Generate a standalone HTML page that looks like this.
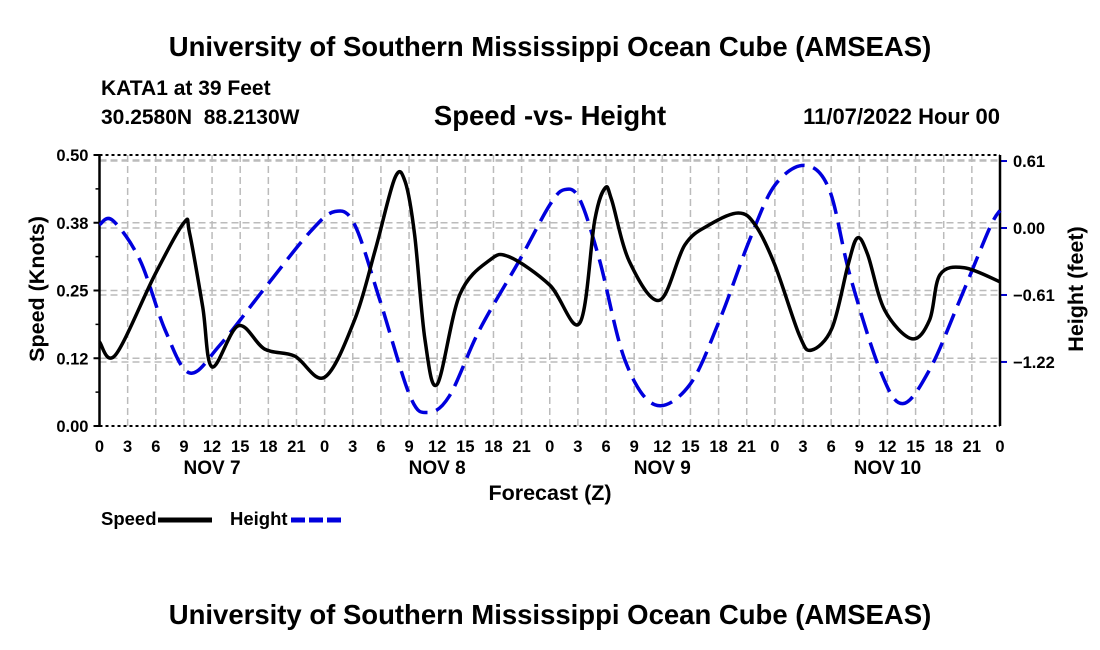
<!DOCTYPE html>
<html><head><meta charset="utf-8"><style>
body{margin:0;background:#fff;}
svg{display:block;font-family:"Liberation Sans",sans-serif;font-weight:bold;}
</style></head><body>
<svg id="c" width="1100" height="650" viewBox="0 0 1100 650">
<text x="550" y="56" text-anchor="middle" font-size="27.5">University of Southern Mississippi Ocean Cube (AMSEAS)</text>
<text x="101" y="95" font-size="21">KATA1 at 39 Feet</text>
<text x="101" y="124" font-size="21" xml:space="preserve">30.2580N  88.2130W</text>
<text x="550" y="125" text-anchor="middle" font-size="27.5">Speed -vs- Height</text>
<text x="1000" y="124" text-anchor="end" font-size="22">11/07/2022 Hour 00</text>
<g id="grid"></g><g id="axes"></g><g id="series"></g>
<text x="550" y="500" text-anchor="middle" font-size="21.5">Forecast (Z)</text>
<text transform="translate(44,289) rotate(-90)" text-anchor="middle" font-size="21.5">Speed (Knots)</text>
<text transform="translate(1083,289) rotate(-90)" text-anchor="middle" font-size="21.5">Height (feet)</text>
<g>
<text x="101" y="525" font-size="18.5">Speed</text>
<line x1="158" y1="520" x2="212" y2="520" stroke="#000" stroke-width="5"/>
<text x="230" y="525" font-size="18.5">Height</text>
<line x1="291" y1="520" x2="343" y2="520" stroke="#0000dd" stroke-width="5" stroke-dasharray="14,4"/>
</g>
<text x="550" y="624" text-anchor="middle" font-size="27.5">University of Southern Mississippi Ocean Cube (AMSEAS)</text>
</svg>
<script>
const speedHours=[0,1.7,5.9,9.0,9.6,11.0,12.0,14.8,17.6,20.8,24.0,27.2,29.4,31.5,32.6,33.6,34.7,36.0,38.4,41.6,43.7,48.0,51.2,52.8,53.9,54.6,56.5,59.7,62.4,65.0,68.1,69.9,72.0,74.6,75.9,78.1,79.8,80.8,81.9,83.7,86.6,88.5,89.6,92.2,96];
const speedValues=[0.155,0.131,0.279,0.375,0.356,0.22,0.109,0.185,0.142,0.129,0.090,0.196,0.325,0.458,0.450,0.352,0.159,0.077,0.242,0.306,0.312,0.260,0.190,0.380,0.439,0.417,0.303,0.232,0.334,0.371,0.393,0.371,0.297,0.168,0.140,0.181,0.297,0.347,0.316,0.214,0.161,0.196,0.279,0.292,0.266];
const heightHours=[0,1.4,4.3,7.0,9.6,12.8,17.6,22.4,25.1,27.2,29.9,33.1,35.0,37.3,40.5,44.8,48.0,49.6,51.2,53.3,56.0,59.2,62.9,66.1,69.3,72.0,75.2,77.8,80.0,83.2,85.6,88.5,91.7,94.9,96];
const heightValues=[0.03,0.07,-0.29,-0.93,-1.32,-1.07,-0.55,-0.04,0.15,0.03,-0.66,-1.53,-1.68,-1.53,-0.93,-0.29,0.21,0.35,0.26,-0.29,-1.2,-1.61,-1.43,-0.84,-0.11,0.39,0.57,0.35,-0.43,-1.29,-1.6,-1.29,-0.66,0,0.16];
const hourTicks=[0,3,6,9,12,15,18,21,0,3,6,9,12,15,18,21,0,3,6,9,12,15,18,21,0,3,6,9,12,15,18,21,0];
const dayLabels=["NOV 7","NOV 8","NOV 9","NOV 10"];
const speedTicks=[0,0.125,0.25,0.375,0.5];
const speedTickLabels=["0.00","0.12","0.25","0.38","0.50"];
const heightTicks=[0.61,0,-0.61,-1.22];
const heightTickLabels=["0.61","0.00","\u22120.61","\u22121.22"];

const L=99.5,R=1000,T=155,B=426;
const xS=h=>L+h*(R-L)/96;
const yS=v=>B-v*(B-T)/0.5;
const yH=v=>228-v*109.8;
const NS="http://www.w3.org/2000/svg";
function mk(tag,attrs,parent){const e=document.createElementNS(NS,tag);for(const k in attrs)e.setAttribute(k,attrs[k]);parent.appendChild(e);return e;}
const grid=document.getElementById('grid'),axes=document.getElementById('axes'),series=document.getElementById('series');
hourTicks.forEach((t,i)=>{
  const x=xS(i*3);
  if(i>0&&i<hourTicks.length-1){const g=mk('line',{x1:x,y1:T,x2:x,y2:B,stroke:'#bbb','stroke-width':1.5,'stroke-dasharray':'7,4'},grid);
  
  }
  const tk=mk('text',{x:x,y:452,'text-anchor':'middle','font-size':16.5},axes);tk.textContent=t;
  
  
});
dayLabels.forEach((d,i)=>{const t=mk('text',{x:xS(12+24*i),y:474,'text-anchor':'middle','font-size':19},axes);t.textContent=d;
  
  });
speedTicks.forEach((v,i)=>{const y=yS(v);
  if(i>0){const g=mk('line',{x1:L,y1:y+(i==4?5:0),x2:R,y2:y+(i==4?5:0),stroke:'#bbb','stroke-width':1.5,'stroke-dasharray':'7,4'},grid);
  
  }
  mk('line',{x1:L-6,y1:y,x2:L,y2:y,stroke:'#000','stroke-width':2},axes);
  const t=mk('text',{x:L-11,y:y+6,'text-anchor':'end','font-size':16.5},axes);t.textContent=speedTickLabels[i];
  
  });
for(let v=0.0625;v<0.5;v+=0.125){mk('line',{x1:L-4,y1:yS(v),x2:L,y2:yS(v),stroke:'#000','stroke-width':1.5},axes);}
heightTicks.forEach((v,i)=>{const y=yH(v);
  const g=mk('line',{x1:L,y1:y,x2:R,y2:y,stroke:'#bbb','stroke-width':1.5,'stroke-dasharray':'7,4'},grid);
  
  
  mk('line',{x1:R,y1:y,x2:R+7,y2:y,stroke:'#0000cc','stroke-width':2},axes);
  const t=mk('text',{x:1013,y:y+6,'font-size':16.5},axes);t.textContent=heightTickLabels[i];
  
  });
mk('line',{x1:L,y1:T,x2:L,y2:B,stroke:'#000','stroke-width':2.5},axes);
mk('line',{x1:R,y1:T,x2:R,y2:B,stroke:'#000','stroke-width':2.5},axes);
mk('line',{x1:L,y1:T,x2:R,y2:T,stroke:'#000','stroke-width':2,'stroke-dasharray':'3,3'},axes);
mk('line',{x1:L,y1:B,x2:R,y2:B,stroke:'#000','stroke-width':2,'stroke-dasharray':'3,3'},axes);
function smooth(pts){let d=`M${pts[0][0]},${pts[0][1]}`;
  for(let i=0;i<pts.length-1;i++){const p0=pts[Math.max(0,i-1)],p1=pts[i],p2=pts[i+1],p3=pts[Math.min(pts.length-1,i+2)];
  d+=` C${p1[0]+(p2[0]-p0[0])/6},${p1[1]+(p2[1]-p0[1])/6} ${p2[0]-(p3[0]-p1[0])/6},${p2[1]-(p3[1]-p1[1])/6} ${p2[0]},${p2[1]}`;}
  return d;}
const hp=mk('path',{d:smooth(heightHours.map((h,i)=>[xS(h),yH(heightValues[i])])),fill:'none',stroke:'#0000dd','stroke-width':3.5,'stroke-dasharray':'22,9'},series);


const sp=mk('path',{d:smooth(speedHours.map((h,i)=>[xS(h),yS(speedValues[i])])),fill:'none',stroke:'#000','stroke-width':3.5,'stroke-linejoin':'round'},series);


</script>
</body></html>
